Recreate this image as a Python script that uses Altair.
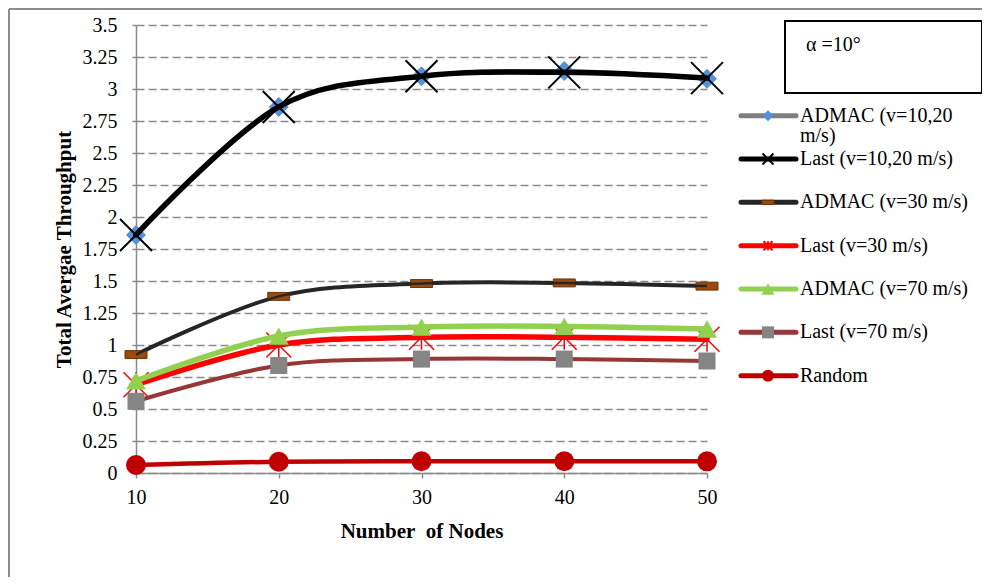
import altair as alt
import pandas as pd

# ---------------- data ----------------
nodes = [10, 20, 30, 40, 50]
admac_1020 = [1.86, 2.86, 3.10, 3.14, 3.08]
last_1020 = [1.86, 2.86, 3.10, 3.13, 3.085]
admac_30 = [0.925, 1.38, 1.48, 1.485, 1.46]
last_30 = [0.69, 1.00, 1.06, 1.06, 1.045]
admac_70 = [0.72, 1.07, 1.14, 1.145, 1.125]
last_70 = [0.56, 0.84, 0.89, 0.89, 0.875]
random_vals = [0.0625, 0.088, 0.092, 0.092, 0.091]

series_names = [
    "ADMAC (v=10,20 m/s)",
    "Last (v=10,20 m/s)",
    "ADMAC (v=30 m/s)",
    "Last (v=30 m/s)",
    "ADMAC (v=70 m/s)",
    "Last (v=70 m/s)",
    "Random",
]
legend_labels = [
    "ADMAC (v=10,20\nm/s)",
    "Last (v=10,20 m/s)",
    "ADMAC (v=30 m/s)",
    "Last (v=30 m/s)",
    "ADMAC (v=70 m/s)",
    "Last (v=70 m/s)",
    "Random",
]
series_values = [admac_1020, last_1020, admac_30, last_30, admac_70, last_70, random_vals]
y_ticks = [0, 0.25, 0.5, 0.75, 1, 1.25, 1.5, 1.75, 2, 2.25, 2.5, 2.75, 3, 3.25, 3.5]
annotation_text = ["α =10°"]

# ---------------- styles ----------------
X_PATH = "M-1,-1L1,1M-1,1L1,-1"
STAR_PATH = "M-1,-1L1,1M-1,1L1,-1M0,-1L0,1"
DASH_PATH = "M-1,-0.36L1,-0.36L1,0.36L-1,0.36Z"

styles = [
    dict(line="#7f7f7f", lw=4, shape="diamond", size=400, lsize=121, filled=True, fill="#5591d8", stroke=None, sw=0),
    dict(line="#000000", lw=5.5, shape=X_PATH, size=1024, lsize=121, filled=False, fill=None, stroke="#000000", sw=2),
    dict(line="#262626", lw=4, shape=DASH_PATH, size=484, lsize=150, filled=True, fill="#9a4a0c", stroke="#6b3206", sw=1),
    dict(line="#ff0000", lw=5.5, shape=STAR_PATH, size=625, lsize=80, filled=False, fill=None, stroke="#ff0000", sw=1.5),
    dict(line="#92d050", lw=5.5, shape="triangle-up", size=400, lsize=170, filled=True, fill="#92d050", stroke=None, sw=0),
    dict(line="#953735", lw=4, shape="square", size=290, lsize=144, filled=True, fill="#858585", stroke=None, sw=0),
    dict(line="#c00000", lw=4.5, shape="circle", size=400, lsize=144, filled=True, fill="#c00000", stroke=None, sw=0),
]

FONT = "Liberation Serif"
AXIS_GRAY = "#8a8a8a"
LABEL_SIZE = 20
TITLE_SIZE = 21

X = alt.X(
    "nodes:Q",
    scale=alt.Scale(domain=[10, 50], nice=False, zero=False),
    title="Number\u00a0 of Nodes",
    axis=alt.Axis(
        values=nodes, grid=False, labelFlush=False,
        domainColor=AXIS_GRAY, domainWidth=1.5, tickColor=AXIS_GRAY, tickWidth=1.5, tickSize=5,
        labelFont=FONT, labelFontSize=LABEL_SIZE, labelColor="black", labelPadding=9,
        titleFont=FONT, titleFontSize=TITLE_SIZE, titleFontWeight="bold", titleColor="black", titlePadding=13,
    ),
)
Y = alt.Y(
    "thr:Q",
    scale=alt.Scale(domain=[0, 3.5], nice=False),
    title="Total Avergae Throughput",
    axis=alt.Axis(
        values=y_ticks, labelExpr="'' + datum.value", labelOverlap=False,
        grid=True, gridColor=AXIS_GRAY, gridDash=[8, 4], gridWidth=1.5,
        domainColor=AXIS_GRAY, domainWidth=1.5, tickColor=AXIS_GRAY, tickWidth=1.5, tickSize=4,
        labelFont=FONT, labelFontSize=LABEL_SIZE, labelColor="black", labelPadding=15,
        titleFont=FONT, titleFontSize=TITLE_SIZE, titleFontWeight="bold", titleColor="black", titlePadding=8,
    ),
)

layers = []
for name, vals, st in zip(series_names, series_values, styles):
    df = pd.DataFrame({"nodes": nodes, "thr": vals, "series": name})
    base = alt.Chart(df).encode(x=X, y=Y)
    line = base.mark_line(
        interpolate="cardinal", color=st["line"], strokeWidth=st["lw"],
        strokeCap="round", strokeJoin="round",
    )
    pkw = dict(shape=st["shape"], size=st["size"], filled=st["filled"], opacity=1)
    if st["filled"]:
        pkw["fill"] = st["fill"]
        if st["stroke"]:
            pkw["stroke"] = st["stroke"]
            pkw["strokeWidth"] = st["sw"]
        else:
            pkw["strokeWidth"] = 0
    else:
        pkw["stroke"] = st["stroke"]
        pkw["strokeWidth"] = st["sw"]
    pts = base.mark_point(**pkw)
    if name == "ADMAC (v=30 m/s)":
        thin = base.mark_line(interpolate="cardinal", color=st["line"], strokeWidth=2.5)
        layers += [line, pts, thin]
    else:
        layers += [line, pts]

main = alt.layer(*layers)

# ---------------- legend ----------------
leg_df = pd.DataFrame({"key": series_names, "label": legend_labels})
LY = alt.Y("key:N", scale=alt.Scale(type="point", domain=series_names, range=[90.7, 350.7], padding=0), axis=None)
leg_base = alt.Chart(leg_df)
leg_layers = [
    leg_base.mark_rule(strokeWidth=5, strokeCap="round").encode(
        x=alt.value(605), x2=alt.value(660), y=LY,
        color=alt.Color("key:N", scale=alt.Scale(domain=series_names, range=[s["line"] for s in styles]), legend=None),
    )
]
for name, st in zip(series_names, styles):
    pkw = dict(shape=st["shape"], size=st["lsize"], filled=st["filled"], opacity=1)
    if st["filled"]:
        pkw["fill"] = st["fill"]
        if st["stroke"]:
            pkw["stroke"] = st["stroke"]
            pkw["strokeWidth"] = 1
        else:
            pkw["strokeWidth"] = 0
    else:
        pkw["stroke"] = st["stroke"]
        pkw["strokeWidth"] = 2
    leg_layers.append(
        leg_base.transform_filter(alt.datum.key == name).mark_point(**pkw).encode(x=alt.value(632), y=LY)
    )
leg_layers.append(
    leg_base.mark_text(
        align="left", baseline="top", dy=-10, font=FONT, fontSize=LABEL_SIZE, lineBreak="\n", lineHeight=20, color="black"
    ).encode(x=alt.value(664), y=LY, text="label:N")
)
legend = alt.layer(*leg_layers)

# ---------------- annotation box & frame ----------------
ann_df = pd.DataFrame({"t": annotation_text})
ann = alt.Chart(ann_df)
box = ann.mark_rect(fill="white", stroke="black", strokeWidth=2).encode(
    x=alt.value(649), x2=alt.value(846), y=alt.value(-4), y2=alt.value(68)
)
box_text = ann.mark_text(align="left", baseline="middle", font=FONT, fontSize=LABEL_SIZE, color="black").encode(
    x=alt.value(670), y=alt.value(20), text="t:N"
)
frame_left = ann.mark_rule(color="#8c8c8c", strokeWidth=2).encode(
    x=alt.value(-127), y=alt.value(-16), y2=alt.value(552)
)
frame_top = ann.mark_rule(color="#8c8c8c", strokeWidth=2).encode(
    x=alt.value(-127), x2=alt.value(846), y=alt.value(-16)
)

chart = alt.layer(frame_left, frame_top, main, legend, box, box_text).resolve_scale(
    y="independent"
).properties(
    width=571, height=448,
    autosize=alt.AutoSizeParams(type="none"),
    padding={"left": 128, "top": 17, "right": 275, "bottom": 104},
    background="white",
).configure_view(stroke=None)

chart.save("out.html", embed_options={"renderer": "svg", "actions": False})
